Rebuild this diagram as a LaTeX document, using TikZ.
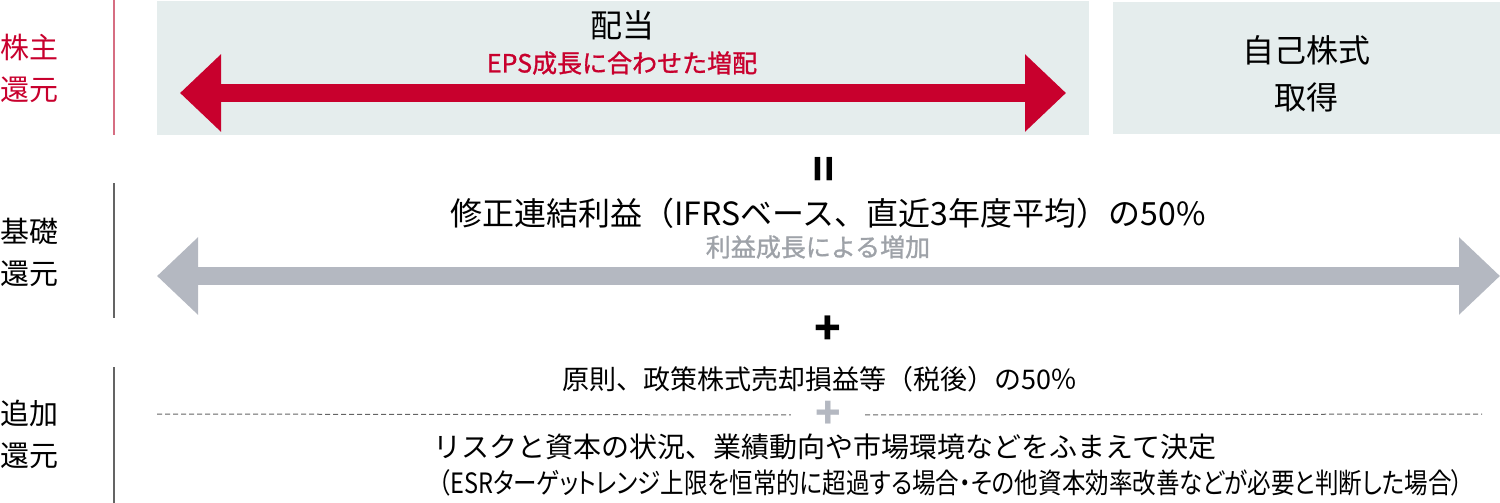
\documentclass[tikz,border=0pt]{standalone}
\usepackage{fontspec}
\setmainfont{Noto Sans CJK JP}
\newfontfamily\condfont{Noto Sans CJK JP}[RawFeature=+palt, FakeStretch=0.84]
\newfontfamily\medfont{Noto Sans CJK JP}[FakeBold=1.2]
\usetikzlibrary{arrows.meta,positioning}
\definecolor{shred}{RGB}{200,0,45}
\definecolor{shline}{RGB}{214,110,130}
\definecolor{boxfill}{RGB}{229,237,237}
\definecolor{arrowgray}{RGB}{180,184,193}
\definecolor{txtgray}{RGB}{158,162,168}
\definecolor{rulegray}{RGB}{100,100,100}
\tikzset{
  panel/.style={fill=boxfill, inner sep=0pt},
  sidelabel/.style={anchor=west, align=left, inner sep=0pt, font=\fontsize{14.5pt}{21pt}\selectfont},
  bigtext/.style={inner sep=0pt, align=center, font=\fontsize{16pt}{23.5pt}\selectfont},
  midtext/.style={inner sep=0pt, font=\fontsize{14pt}{16pt}\selectfont},
  subtext/.style={inner sep=0pt, font=\fontsize{12.5pt}{15pt}\medfont},
  bigarrow/.style={line width=9pt, {Triangle[length=20.5pt,width=37.5pt]}-{Triangle[length=20.5pt,width=37.5pt]}},
  sideline/.style={line width=1pt},
  dashrule/.style={rulegray, line width=0.5pt, dash pattern=on 2.5pt off 1.5pt}
}
\begin{document}
\begin{tikzpicture}[x=0.5pt,y=-0.5pt]
\useasboundingbox (0,0) rectangle (1500,503);
% boxes
\node[panel, minimum width=466pt, minimum height=67pt] (divbox) at (623,68){};
\node[panel, minimum width=193.5pt, minimum height=66pt] (buyback) at (1306.5,68){};
% side labels
\node[sidelabel, text=shred] (lbl0) at (0,68.5){株主\\還元};
\node[sidelabel] (lbl1) at (0,252){基礎\\還元};
\node[sidelabel] (lbl2) at (0,434){追加\\還元};
\draw[sideline, shline] (114,0) -- (114,135);
\draw[sideline, rulegray] (114,183) -- (114,318);
\draw[sideline, rulegray] (114,367) -- (114,503);
% shareholder return
\node[bigtext] (div) at (622,25){配当};
\node[subtext, text=shred] (divsub) at (622,63){EPS成長に合わせた増配};
\coordinate (redL) at (180,93);
\coordinate (redR) at (1066,93);
\draw[bigarrow, shred] (redL) -- (redR);
\node[bigtext] (buytxt) at (1306,73.5){自己株式\\取得};
% base return
\node[inner sep=0pt, rotate=90, font=\fontsize{22pt}{22pt}\selectfont\bfseries] (eq) at (828,169){=};
\node[bigtext] (base) at (828,213){修正連結利益（IFRSベース、直近3年度平均）の50\%};
\node[subtext, text=txtgray] (basesub) at (818,247){利益成長による増加};
\coordinate (grayL) at (157,276);
\coordinate (grayR) at (1500,276);
\draw[bigarrow, arrowgray] (grayL) -- (grayR);
\node[inner sep=0pt, font=\fontsize{22pt}{22pt}\selectfont\bfseries] (plus1) at (828,330){+};
% additional return
\node[midtext, font=\fontsize{13.5pt}{16pt}\selectfont] (add1) at (820,379){原則、政策株式売却損益等（税後）の50％};
\node[inner sep=0pt, text=arrowgray, font=\fontsize{21pt}{21pt}\selectfont\bfseries] (plus2) at (828,415){+};
\coordinate (dashL) at (157,414);
\coordinate (dashR) at (1482,414);
\draw[dashrule, shorten >=12pt] (dashL) -- (plus2.west);
\draw[dashrule, shorten <=12pt] (plus2.east) -- (dashR);
\node[midtext] (add2) at (825,447){リスクと資本の状況、業績動向や市場環境などをふまえて決定};
\node[midtext, font=\fontsize{14pt}{16pt}\condfont] (add3) at (951,483){（ESRターゲットレンジ上限を恒常的に超過する場合・その他資本効率改善などが必要と判断した場合）};
\end{tikzpicture}
\end{document}
